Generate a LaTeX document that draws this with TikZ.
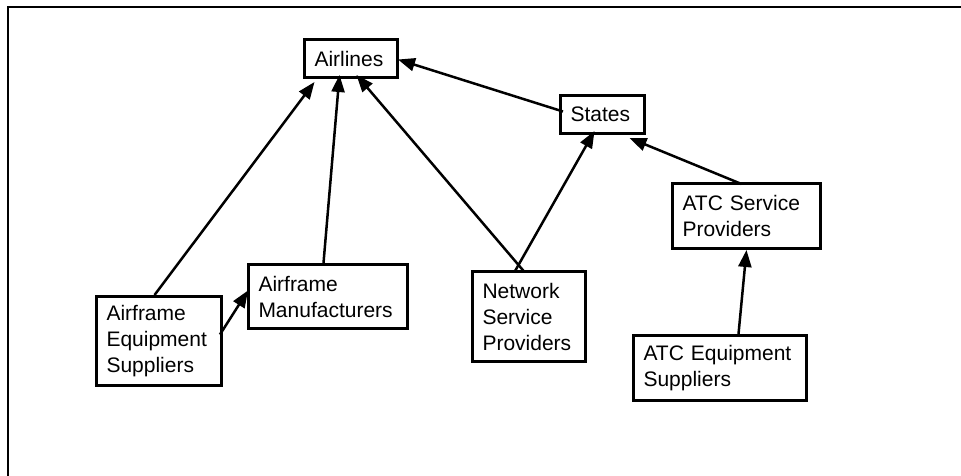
\documentclass[tikz,border=0pt]{standalone}
\usepackage{fontspec}
\setmainfont{Liberation Sans}
\usetikzlibrary{arrows.meta}

\begin{document}
\begin{tikzpicture}[
    x=1pt, y=-1pt,
    actor/.style={draw, line width=3pt, anchor=north west, inner xsep=10pt, inner ysep=0pt, align=left, font=\fontsize{21}{26}\selectfont},
    arrow/.style={-{Triangle[length=17pt, width=13pt]}, line width=2.5pt}
]
\clip (0,0) rectangle (961,476);
\draw[line width=2.5pt] (8,7) rectangle (990,500);
\node[actor, text width=73pt, minimum height=38pt] (airlines) at (303,38) {Airlines};
\node[actor, text width=64pt, minimum height=38pt] (states) at (559,94) {States};
\node[actor, text width=128pt, minimum height=65pt] (atcsp) at (671,182) {ATC Service\\Providers};
\node[actor, text width=105pt, minimum height=89pt] (aes) at (95,295) {Airframe\\Equipment\\Suppliers};
\node[actor, text width=139pt, minimum height=64pt] (am) at (247,263) {Airframe\\Manufacturers};
\node[actor, text width=93pt, minimum height=90pt] (nsp) at (471,270) {Network\\Service\\Providers};
\node[actor, text width=153pt, minimum height=65pt] (atceq) at (632,334) {ATC Equipment\\Suppliers};
\draw[arrow] ([xshift=-4.5pt]aes.north) -- ([xshift=-36.5pt, yshift=-3pt]airlines.south);
\draw[arrow] ([xshift=-4.5pt]am.north) -- ([xshift=-11.5pt, yshift=4pt]airlines.south);
\draw[arrow] ([xshift=-4.5pt, yshift=-2pt]nsp.north) -- ([xshift=5.5pt, yshift=4pt]airlines.south);
\draw[arrow] ([xshift=-14.5pt, yshift=-2pt]nsp.north) -- ([xshift=-8pt, yshift=4pt]states.south);
\draw[arrow] ([xshift=4pt, yshift=3pt]states.west) -- ([xshift=-1pt, yshift=-1pt]airlines.east);
\draw[arrow] ([xshift=-5pt, yshift=-2pt]atcsp.north) -- ([xshift=27pt, yshift=-3pt]states.south);
\draw[arrow] ([xshift=18.5pt]atceq.north) -- (atcsp.south);
\draw[arrow] ([xshift=-3pt, yshift=6.5pt]aes.east) -- ([xshift=1pt, yshift=6pt]am.west);
\end{tikzpicture}
\end{document}
